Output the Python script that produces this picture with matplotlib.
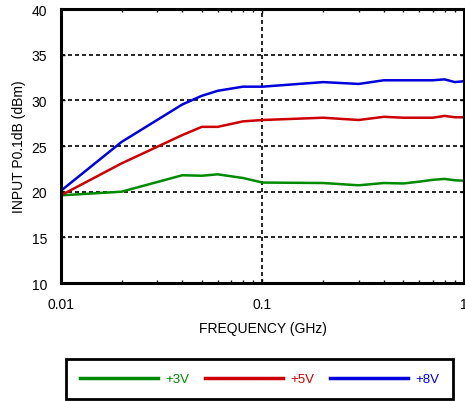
import matplotlib
matplotlib.use('Agg')
import matplotlib.pyplot as plt
from matplotlib.ticker import LogLocator, NullFormatter, FixedLocator, FixedFormatter

plt.rcParams['font.family'] = ['Liberation Sans', 'DejaVu Sans']

freq = [0.01, 0.02, 0.04, 0.05, 0.06, 0.08, 0.1, 0.2, 0.3, 0.4, 0.5, 0.6, 0.7, 0.8, 0.9, 1.0]
p3v = [19.6, 20.0, 21.8, 21.75, 21.9, 21.5, 21.0, 20.95, 20.7, 20.95, 20.9, 21.1, 21.3, 21.4, 21.25, 21.2]
p5v = [19.6, 23.1, 26.2, 27.1, 27.1, 27.7, 27.85, 28.1, 27.85, 28.2, 28.1, 28.1, 28.1, 28.3, 28.15, 28.15]
p8v = [20.1, 25.45, 29.55, 30.5, 31.05, 31.5, 31.5, 32.0, 31.8, 32.2, 32.2, 32.2, 32.2, 32.3, 32.0, 32.1]

labels = ['+3V', '+5V', '+8V']
colours = ['#008a00', '#cc0000', '#0000dd']

fig = plt.figure(figsize=(4.65, 4.02), dpi=100)
ax = fig.add_axes([0.131, 0.2935, 0.867, 0.6815])

for y, lab, c in zip([p3v, p5v, p8v], labels, colours):
    ax.plot(freq, y, color=c, lw=1.8, label=lab)

ax.set_xscale('log')
ax.set_xlim(0.01, 1)
ax.set_ylim(10, 40)
ax.xaxis.set_major_locator(FixedLocator([0.01, 0.1, 1]))
ax.xaxis.set_major_formatter(FixedFormatter(['0.01', '0.1', '1']))
ax.xaxis.set_minor_locator(LogLocator(base=10, subs=range(2, 10)))
ax.xaxis.set_minor_formatter(NullFormatter())
ax.set_yticks(range(10, 41, 5))

ax.grid(True, which='major', color='black', lw=1.2, linestyle=(0, (2.4, 1.8)))
ax.tick_params(which='both', direction='in', top=True, right=True, labelsize=10, pad=10)
ax.tick_params(which='major', length=3, width=1)
ax.tick_params(which='minor', length=2.5, width=1)
for s in ax.spines.values():
    s.set_linewidth(2.2)

ax.set_xlabel('FREQUENCY (GHz)', fontsize=10, labelpad=7)
ax.set_ylabel('INPUT P0.1dB (dBm)', fontsize=10, labelpad=4)

leg = fig.legend(loc='lower left', bbox_to_anchor=(0.142, 0.005, 0.832, 0.0945),
                 mode='expand', ncol=3, fontsize=9.5, handlelength=5.9, handletextpad=0.55,
                 borderpad=1.05, fancybox=False, edgecolor='black', borderaxespad=0,
                 framealpha=1)
leg.get_frame().set_linewidth(2)
for t, c in zip(leg.get_texts(), colours):
    t.set_color(c)
for h in leg.legend_handles:
    h.set_linewidth(2.5)

fig.savefig('out.png', dpi=100)
